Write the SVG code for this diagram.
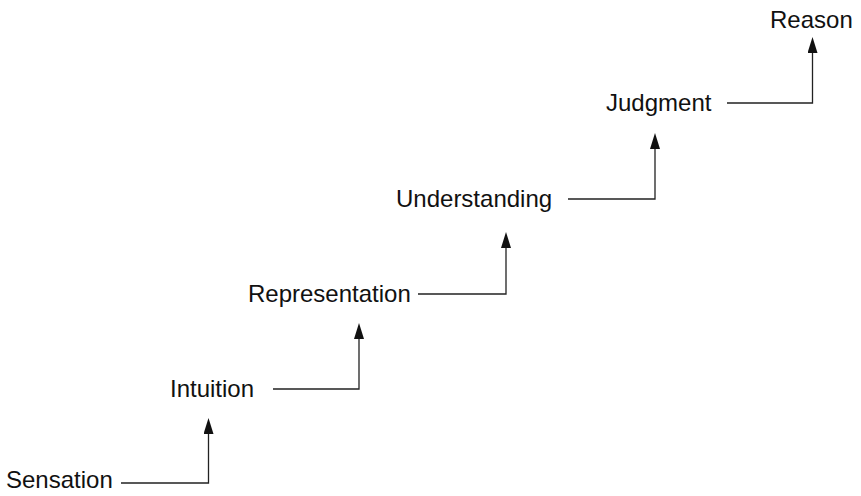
<svg xmlns="http://www.w3.org/2000/svg" width="861" height="496" viewBox="0 0 861 496">
<style>
.lbl{font-family:"Liberation Sans",Arial,sans-serif;font-size:24px;fill:#111}
.edge{fill:none;stroke:#222;stroke-width:1.3}
</style>
<defs>
<marker id="ah" viewBox="0 0 16 10" refX="0" refY="5" markerWidth="16" markerHeight="10" markerUnits="userSpaceOnUse" orient="auto">
<path d="M0,0 L16,5 L0,10 z" fill="#111"/>
</marker>
</defs>
<rect width="861" height="496" fill="#fff"/>
<g id="sensation"><text class="lbl" x="6" y="488">Sensation</text></g>
<g id="intuition"><text class="lbl" x="170" y="397">Intuition</text></g>
<g id="representation"><text class="lbl" x="248" y="302">Representation</text></g>
<g id="understanding"><text class="lbl" x="396" y="207">Understanding</text></g>
<g id="judgment"><text class="lbl" x="606" y="111">Judgment</text></g>
<g id="reason"><text class="lbl" x="770" y="28">Reason</text></g>
<g id="connectors">
<path class="edge" d="M121,483 H208.5 V434" marker-end="url(#ah)"/>
<path class="edge" d="M273,389 H359 V339" marker-end="url(#ah)"/>
<path class="edge" d="M418,294 H506 V248" marker-end="url(#ah)"/>
<path class="edge" d="M568,199 H655 V149" marker-end="url(#ah)"/>
<path class="edge" d="M727,103 H812.5 V53" marker-end="url(#ah)"/>
</g>
</svg>
